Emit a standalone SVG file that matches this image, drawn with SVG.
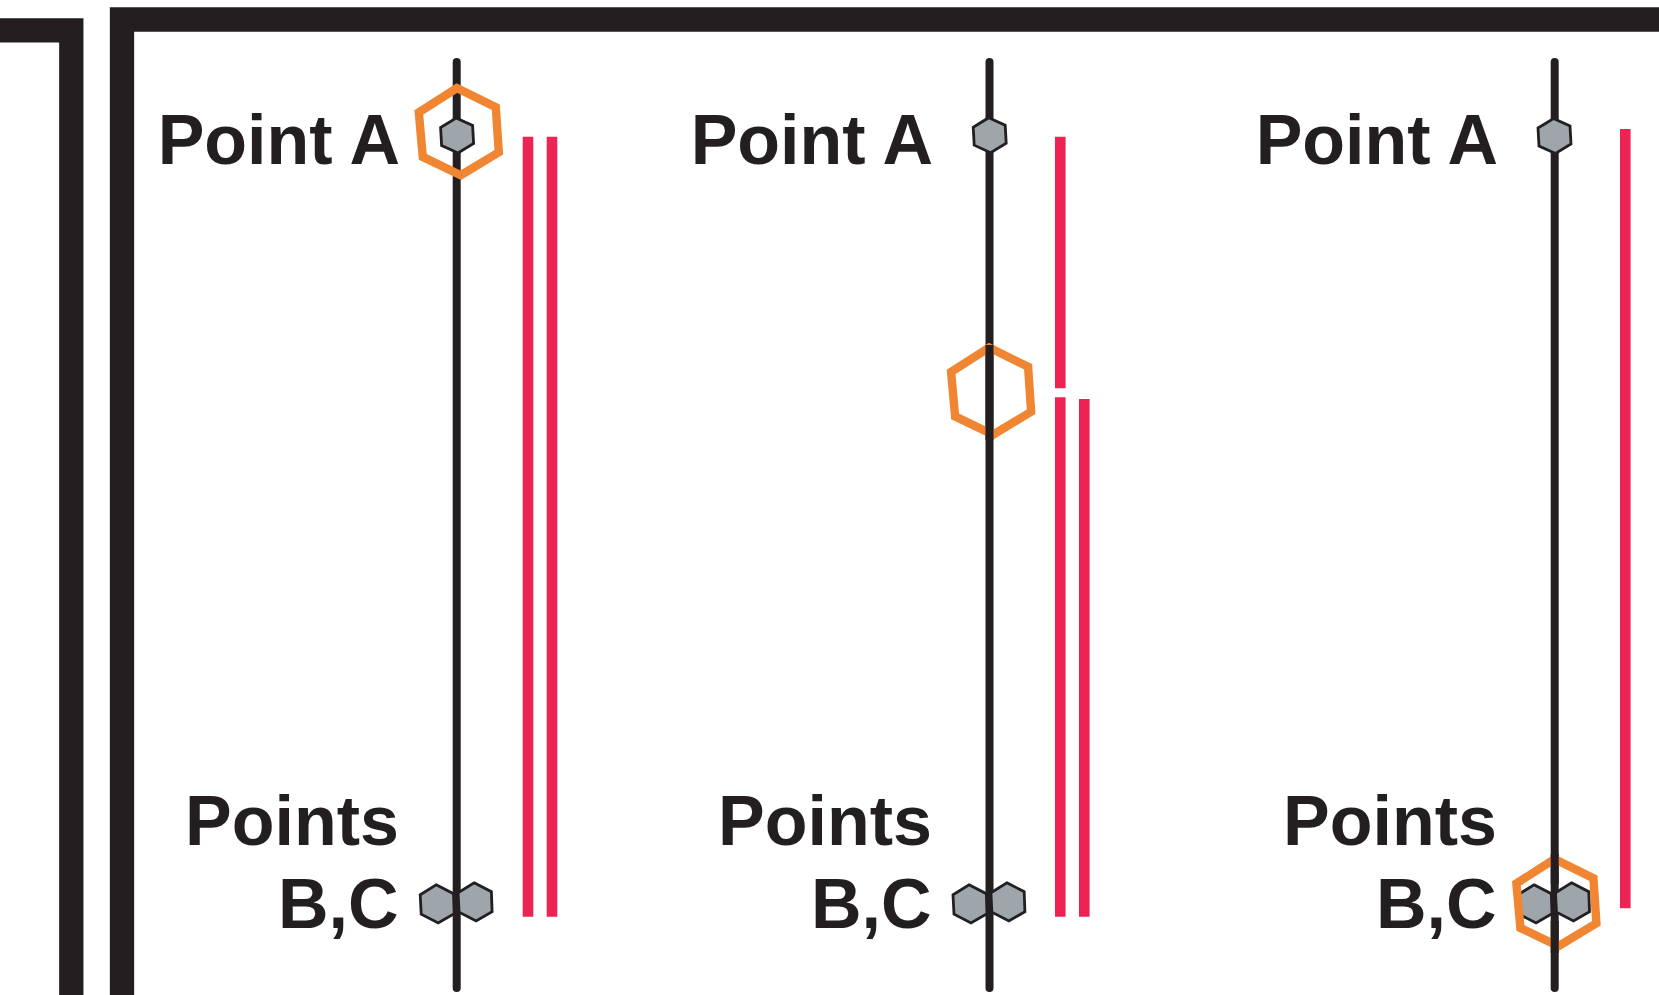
<svg xmlns="http://www.w3.org/2000/svg" width="1659" height="995" viewBox="0 0 1659 995">
<style>
.frame{fill:none;stroke:#231f20;stroke-width:24.3;stroke-linejoin:miter}
.axis{stroke:#231f20;stroke-width:8;stroke-linecap:round}
.red{stroke:#ec2353;stroke-width:10.6}
.orange{fill:none;stroke:#f08532;stroke-width:8.4;stroke-linejoin:miter}
.grey{fill:#9ea5ab;stroke:#231f20;stroke-width:2.8}
.lbl{font-family:"Liberation Sans",Arial,sans-serif;font-weight:bold;font-size:70px;fill:#231f20;text-anchor:end}
</style>
<defs>
<polygon id="hexS" points="-1,-17.5 15.5,-10 16.5,8 1,17.5 -15.5,10 -16.5,-8"/>
<polygon id="hexM" points="-1,-19.2 16.3,-10.3 17,9.6 1,19 -16,10.2 -17,-9.3"/>
<polygon id="hexO" points="-2,-43.6 37,-24.4 40,20.6 2,43.5 -36,25.2 -40,-19.2"/>
</defs>
<rect width="1659" height="995" fill="#ffffff"/>
<g id="frame">
<path class="frame" d="M122,995 V19.5 H1659"/>
<path class="frame" d="M0,30.3 H71.3 V995"/>
</g>
<g id="connectors">
<line class="axis" x1="456.7" y1="62" x2="456.7" y2="988"/>
<line class="axis" x1="989.5" y1="62" x2="989.5" y2="988"/>
<line class="axis" x1="1554.7" y1="62" x2="1554.7" y2="988"/>
<line class="red" x1="528" y1="136.7" x2="528" y2="916.7"/>
<line class="red" x1="552" y1="136.7" x2="552" y2="916.7"/>
<line class="red" x1="1060.3" y1="136.7" x2="1060.3" y2="388.3"/>
<line class="red" x1="1060.3" y1="397.3" x2="1060.3" y2="916.7"/>
<line class="red" x1="1084.3" y1="399" x2="1084.3" y2="916.7"/>
<line class="red" x1="1625.3" y1="129" x2="1625.3" y2="908.3"/>
</g>
<g id="panel1">
<text class="lbl" x="400" y="164">Point A</text>
<text class="lbl" x="399" y="845">Points</text>
<text class="lbl" x="398.5" y="928">B,C</text>
<use href="#hexS" class="grey" x="457.1" y="135.5"/>
<use href="#hexM" class="grey" x="437.2" y="904"/>
<use href="#hexM" class="grey" x="475.1" y="902"/>
<use href="#hexO" class="orange" x="458.8" y="131.7"/>
</g>
<g id="panel2">
<text class="lbl" x="933" y="164">Point A</text>
<text class="lbl" x="932" y="845">Points</text>
<text class="lbl" x="931.5" y="928">B,C</text>
<use href="#hexS" class="grey" x="989.7" y="135.2"/>
<use href="#hexM" class="grey" x="970" y="904"/>
<use href="#hexM" class="grey" x="1007.9" y="902"/>
<use href="#hexO" class="orange" x="991.1" y="391.2"/>
<line class="axis" x1="989.5" y1="345" x2="989.5" y2="440" style="stroke-linecap:butt"/>
</g>
<g id="panel3">
<text class="lbl" x="1498" y="164">Point A</text>
<text class="lbl" x="1497" y="845">Points</text>
<text class="lbl" x="1496.5" y="928">B,C</text>
<use href="#hexS" class="grey" x="1554.5" y="136"/>
<use href="#hexM" class="grey" x="1535" y="904"/>
<use href="#hexM" class="grey" x="1572.5" y="902"/>
<use href="#hexO" class="orange" x="1556.4" y="902.7"/>
<line class="axis" x1="1554.7" y1="854" x2="1554.7" y2="884" style="stroke-linecap:butt"/>
<line class="axis" x1="1554.7" y1="921" x2="1554.7" y2="953" style="stroke-linecap:butt"/>
</g>
</svg>
